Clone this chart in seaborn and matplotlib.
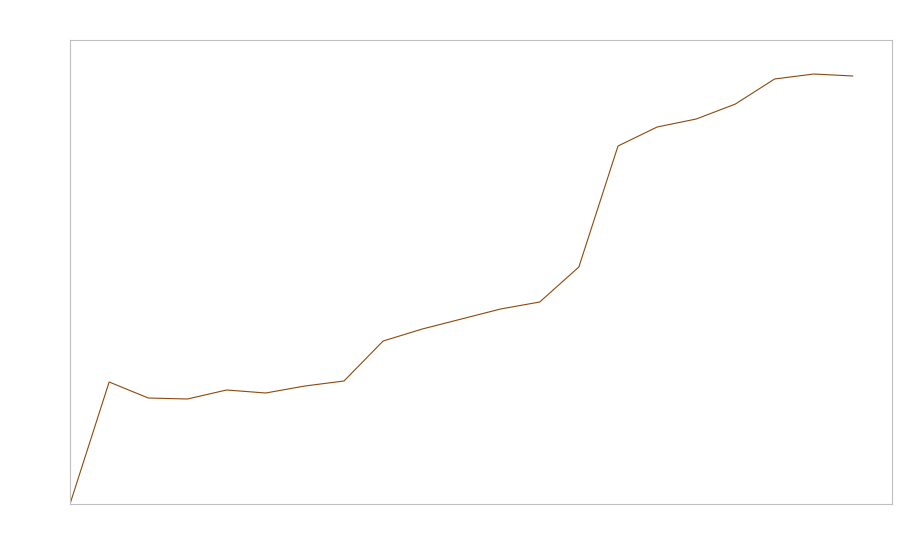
import matplotlib
matplotlib.use("Agg")
import matplotlib.pyplot as plt
import seaborn as sns
import pandas as pd

steps = list(range(21))
values = [0, 122, 106, 105, 114, 111, 118, 123, 163, 175, 185, 195, 202, 237,
          358, 377, 385, 400, 425, 430, 428]

sns.set_style("white")
fig = plt.figure(figsize=(9, 5.6), dpi=100)
ax = fig.add_axes([70/900, 56/560, 822/900, 464/560])
df = pd.DataFrame({"step": steps, "value": values})
sns.lineplot(data=df, x="step", y="value", ax=ax, color="#8c4a0c", linewidth=0.8)
ax.set_xlim(0, 21)
ax.set_ylim(0, 464)
ax.set_xticks([])
ax.set_yticks([])
ax.set_xlabel("")
ax.set_ylabel("")
for s in ax.spines.values():
    s.set_color("#bfbfbf")
    s.set_linewidth(0.8)
fig.savefig("out.png", dpi=100)
